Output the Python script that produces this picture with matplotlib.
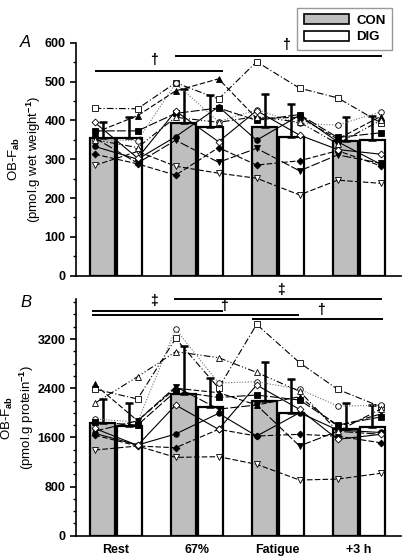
import numpy as np
import matplotlib.pyplot as plt
from matplotlib.patches import Patch
from matplotlib.ticker import MultipleLocator

plt.rcParams['font.family'] = ['Liberation Sans', 'DejaVu Sans']
plt.rcParams['font.weight'] = 'bold'
plt.rcParams['mathtext.fontset'] = 'custom'
plt.rcParams['mathtext.rm'] = 'Liberation Sans:bold'
plt.rcParams['mathtext.bf'] = 'Liberation Sans:bold'
plt.rcParams['mathtext.default'] = 'bf'

times = ['Rest', '67%', 'Fatigue', '+3 h']

# group means and SD (upper error bar only)
con_a = [354, 394, 382, 348]
con_a_sd = [43, 88, 86, 60]
dig_a = [354, 383, 358, 349]
dig_a_sd = [54, 82, 83, 62]

con_b = [1830, 2310, 2197, 1740]
con_b_sd = [389, 782, 624, 425]
dig_b = [1790, 2094, 2001, 1774]
dig_b_sd = [375, 472, 549, 347]

# individual subjects, order: CON/DIG at Rest, 67%, Fatigue, +3 h
a_sq_open = [431, 430, 497, 455, 551, 483, 458, 394]
a_ci_open = [350, 348, 495, 397, 427, 392, 388, 422]
a_tu_fill = [368, 412, 476, 507, 405, 408, 352, 410]
a_sq_fill = [373, 373, 418, 432, 400, 415, 356, 368]
a_ci_fill = [333, 300, 358, 435, 349, 413, 345, 287]
a_di_fill = [313, 288, 259, 330, 285, 296, 322, 283]
a_td_fill = [355, 290, 349, 292, 328, 270, 311, 290]
a_td_open = [284, 320, 282, 264, 251, 208, 246, 238]
a_di_open = [395, 303, 424, 345, 425, 362, 325, 313]
a_tu_open = [350, 330, 408, 395, 410, 395, 340, 400]

b_sq_open = [2387, 2224, 3211, 2403, 3439, 2815, 2382, 2100]
b_ci_open = [1899, 1850, 3363, 2485, 2506, 2382, 2110, 2120]
b_tu_fill = [2463, 1870, 2400, 2327, 2127, 2262, 1780, 1980]
b_sq_fill = [1850, 1800, 2350, 2250, 2289, 2208, 1801, 1932]
b_ci_fill = [1666, 1476, 1655, 1991, 1622, 2001, 1720, 1680]
b_di_fill = [1638, 1460, 1432, 1731, 1622, 1650, 1620, 1513]
b_td_fill = [1700, 1870, 2425, 2060, 2127, 1460, 1700, 1650]
b_td_open = [1394, 1460, 1275, 1286, 1162, 906, 922, 1015]
b_di_open = [1747, 1470, 2127, 1731, 2452, 2056, 1568, 1650]
b_tu_open = [2154, 2587, 2994, 2897, 2658, 2350, 1700, 2060]

# marker, filled, linestyle, line colour
styles = [
    ('s', False, (0, (6, 2, 1, 2)), 'k'),
    ('o', False, (0, (1, 1.5)), '0.45'),
    ('^', True, (0, (5, 2)), 'k'),
    ('s', True, (0, (8, 2)), 'k'),
    ('o', True, '-', 'k'),
    ('D', True, (0, (5, 2)), 'k'),
    ('v', True, (0, (8, 2)), 'k'),
    ('v', False, (0, (5, 2)), 'k'),
    ('D', False, '-', 'k'),
    ('^', False, (0, (6, 2, 1, 2, 1, 2)), 'k'),
]
subj_a = [a_sq_open, a_ci_open, a_tu_fill, a_sq_fill, a_ci_fill,
          a_di_fill, a_td_fill, a_td_open, a_di_open, a_tu_open]
subj_b = [b_sq_open, b_ci_open, b_tu_fill, b_sq_fill, b_ci_fill,
          b_di_fill, b_td_fill, b_td_open, b_di_open, b_tu_open]

fig = plt.figure(figsize=(4.03, 5.57), dpi=100)
ax_a = fig.add_axes([0.1886, 0.505, 0.806, 0.4183])
ax_b = fig.add_axes([0.1886, 0.0382, 0.806, 0.4248])

x = np.arange(4)
w = 0.31
pts_x = np.ravel([[i - 0.26, i + 0.27] for i in x])


def draw(ax, con, con_sd, dig, dig_sd, subjects):
    ax.bar(x - 0.16, con, w, color='#bebebe', edgecolor='k', linewidth=1.6, zorder=2)
    ax.bar(x + 0.17, dig, w, color='white', edgecolor='k', linewidth=1.6, zorder=2)
    ax.errorbar(x - 0.16, con, yerr=[np.zeros(4), con_sd], fmt='none', ecolor='k',
                elinewidth=1.8, capsize=3, capthick=1.8, zorder=3)
    ax.errorbar(x + 0.17, dig, yerr=[np.zeros(4), dig_sd], fmt='none', ecolor='k',
                elinewidth=1.8, capsize=3, capthick=1.8, zorder=3)
    for vals, (m, filled, ls, lc) in zip(subjects, styles):
        ax.plot(pts_x, vals, linestyle=ls, color=lc, linewidth=0.8, marker=m,
                markersize=4 if m != 'D' else 3.5, markerfacecolor='k' if filled else 'white',
                markeredgecolor='k', markeredgewidth=0.6, zorder=4)
    ax.set_xlim(-0.49, 3.52)
    ax.spines['top'].set_visible(False)
    ax.spines['right'].set_visible(False)
    ax.spines['left'].set_linewidth(1.2)
    ax.spines['bottom'].set_linewidth(1.2)
    ax.tick_params(axis='y', which='major', length=4, width=1.2, labelsize=9)
    ax.tick_params(axis='y', which='minor', length=2.5, width=1)
    ax.tick_params(axis='x', length=0, labelsize=9, pad=6)


draw(ax_a, con_a, con_a_sd, dig_a, dig_a_sd, subj_a)
ax_a.set_ylim(0, 600)
ax_a.yaxis.set_major_locator(MultipleLocator(100))
ax_a.yaxis.set_minor_locator(MultipleLocator(50))
ax_a.set_xticks(x)
ax_a.set_xticklabels([])
ax_a.set_ylabel('OB-F$_{ab}$\n(pmol.g wet weight$^{-1}$)', fontsize=9.5, labelpad=1)

draw(ax_b, con_b, con_b_sd, dig_b, dig_b_sd, subj_b)
ax_b.set_ylim(0, 3850)
ax_b.yaxis.set_major_locator(MultipleLocator(800))
ax_b.yaxis.set_minor_locator(MultipleLocator(200))
ax_b.set_xticks(x)
ax_b.set_xticklabels(times)
ax_b.set_ylabel('OB-F$_{ab}$\n(pmol.g protein$^{-1}$)', fontsize=9.5, labelpad=1)

# significance bars
for ax, segs in [
    (ax_a, [(-0.247, 1.31, 528), (0.74, 3.28, 567)]),
    (ax_b, [(0.73, 3.28, 3846), (-0.277, 1.31, 3661), (-0.277, 2.25, 3589), (1.70, 3.29, 3524)]),
]:
    for x0, x1, yv in segs:
        ax.plot([x0, x1], [yv, yv], color='k', linewidth=1.4, clip_on=False, zorder=5)

ax_a.text(0.473, 537, '\u2020', ha='center', va='bottom', fontsize=10)
ax_a.text(2.10, 576, '\u2020', ha='center', va='bottom', fontsize=10)
ax_b.text(0.477, 3700, '\u2021', ha='center', va='bottom', fontsize=10)
ax_b.text(1.34, 3620, '\u2020', ha='center', va='bottom', fontsize=10)
ax_b.text(2.04, 3880, '\u2021', ha='center', va='bottom', fontsize=10, clip_on=False)
ax_b.text(2.53, 3560, '\u2020', ha='center', va='bottom', fontsize=10)

fig.text(0.05, 0.915, 'A', fontsize=12, style='italic', weight='normal')
fig.text(0.05, 0.448, 'B', fontsize=12, style='italic', weight='normal')

handles = [Patch(facecolor='#bebebe', edgecolor='k', linewidth=1.2),
           Patch(facecolor='white', edgecolor='k', linewidth=1.2)]
leg = fig.legend(handles, ['CON', 'DIG'], loc='upper right',
                 bbox_to_anchor=(399 / 403, 1 - 1 / 557), fancybox=False,
                 edgecolor='0.5', fontsize=9.5, handlelength=3.4, handleheight=0.8,
                 borderpad=0.5, labelspacing=0.3, handletextpad=0.6)
leg.get_frame().set_linewidth(1.0)

fig.savefig('out.png', dpi=100)
